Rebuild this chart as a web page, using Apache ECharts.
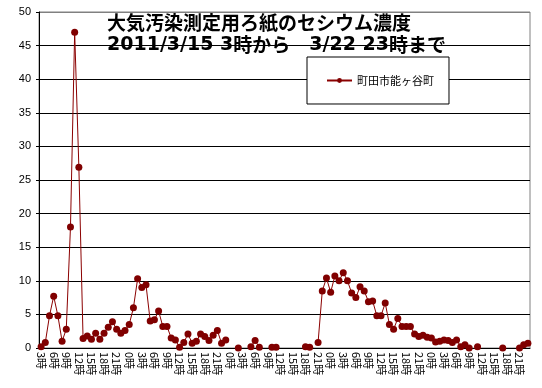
<!DOCTYPE html>
<html>
<head>
<meta charset="utf-8">
<script src="https://cdn.jsdelivr.net/npm/echarts@6/dist/echarts.min.js"></script>
<style>
html,body{margin:0;padding:0;background:#fff;}
#c{width:542px;height:388px;}
</style>
</head>
<body>
<div id="c"></div>
<script>
// Hourly categories: 3時 on 3/15 onward (117 points)
const startHour = 3;
const pointCount = 117;
const hours = [];
for (let i = 0; i < pointCount; i++) hours.push(((startHour + i) % 24) + '時');

const seriesName = '町田市能ヶ谷町';
const values = [
  0.2, 0.8, 4.8, 7.7, 4.8, 1.0, 2.8, 18.0, 47.0, 26.9,
  1.4, 1.8, 1.3, 2.2, 1.3, 2.2, 3.1, 3.9, 2.8, 2.2,
  2.6, 3.5, 6.0, 10.3, 9.0, 9.4, 4.0, 4.2, 5.5, 3.2,
  3.2, 1.5, 1.2, 0.1, 0.8, 2.1, 0.7, 1.0, 2.1, 1.7,
  1.1, 1.9, 2.6, 0.7, 1.2, null, null, 0.0, null, null,
  0.2, 1.1, 0.1, null, null, 0.1, 0.1, null, null, null,
  null, null, null, 0.2, 0.1, null, 0.8, 8.5, 10.4, 8.3,
  10.7, 10.0, 11.2, 10.0, 8.2, 7.5, 9.1, 8.5, 6.9, 7.0,
  4.8, 4.8, 6.7, 3.5, 2.8, 4.4, 3.2, 3.2, 3.2, 2.1,
  1.7, 1.9, 1.6, 1.5, 0.9, 1.0, 1.2, 1.1, 0.8, 1.2,
  0.2, 0.5, 0.0, null, 0.2, null, null, null, null, null,
  0.0, null, null, null, 0.0, 0.5, 0.7
];
// Title: line 1, and line 2 split into [latin, cjk] runs
const titleLine1 = '大気汚染測定用ろ紙のセシウム濃度';
const titleLine2Runs = [['d', '2011/3/15 3'], ['a', '時から　'], ['d', '3/22 23'], ['a', '時まで']];
const yMin = 0, yMax = 50, yStep = 5;

const splitColors = [];
for (let v = yMin; v <= yMax; v += yStep) splitColors.push(v === yMax ? '#808080' : '#000000');

const titleText = '{a|' + titleLine1 + '}\n' + titleLine2Runs.map(r => '{' + r[0] + '|' + r[1] + '}').join('');

const chart = echarts.init(document.getElementById('c'), null, {renderer: 'canvas'});
chart.setOption({
  backgroundColor: '#ffffff',
  animation: false,
  title: {
    text: titleText,
    left: 107, top: 12, padding: 0,
    textStyle: {
      fontFamily: 'Noto Sans CJK JP', fontSize: 19, fontWeight: 'bold', lineHeight: 22, color: '#000',
      rich: {
        a: {fontFamily: 'Noto Sans CJK JP', fontSize: 19, fontWeight: 'bold', lineHeight: 22, color: '#000'},
        d: {fontFamily: 'DejaVu Sans', fontSize: 19, fontWeight: 'bold', lineHeight: 22, color: '#000'}
      }
    }
  },
  legend: {
    left: 307, top: 57,
    padding: [18, 15, 18, 19],
    backgroundColor: '#ffffff', borderColor: '#000000', borderWidth: 1, borderRadius: 0,
    itemWidth: 25, itemHeight: 6, itemGap: 4,
    textStyle: {fontFamily: 'Noto Sans CJK JP', fontSize: 11, color: '#000', padding: [0,0,0,0]},
    data: [seriesName]
  },
  grid: {left: 39, right: 12, top: 12, bottom: 40, show: true, borderColor: '#808080', borderWidth: 1, backgroundColor: '#ffffff'},
  xAxis: {
    type: 'category', data: hours, boundaryGap: true,
    axisLine: {lineStyle: {color: '#000', width: 1}},
    axisTick: {show: false},
    axisLabel: {interval: 2, rotate: -90, margin: 4, fontSize: 11, color: '#000', fontFamily: 'Noto Sans CJK JP'},
    splitLine: {show: false}
  },
  yAxis: {
    type: 'value', min: yMin, max: yMax, interval: yStep,
    axisLine: {show: true, lineStyle: {color: '#000', width: 1}},
    axisTick: {show: true, length: 3, lineStyle: {color: '#000'}},
    axisLabel: {fontSize: 11, color: '#000', margin: 8, fontFamily: 'Liberation Sans'},
    splitLine: {show: true, lineStyle: {color: splitColors, width: 1}}
  },
  series: [{
    name: seriesName, type: 'line', data: values,
    symbol: 'circle', symbolSize: 7, showAllSymbol: true, connectNulls: false,
    itemStyle: {color: '#800000'},
    lineStyle: {color: '#8b0000', width: 1}
  }]
});
</script>
</body>
</html>
